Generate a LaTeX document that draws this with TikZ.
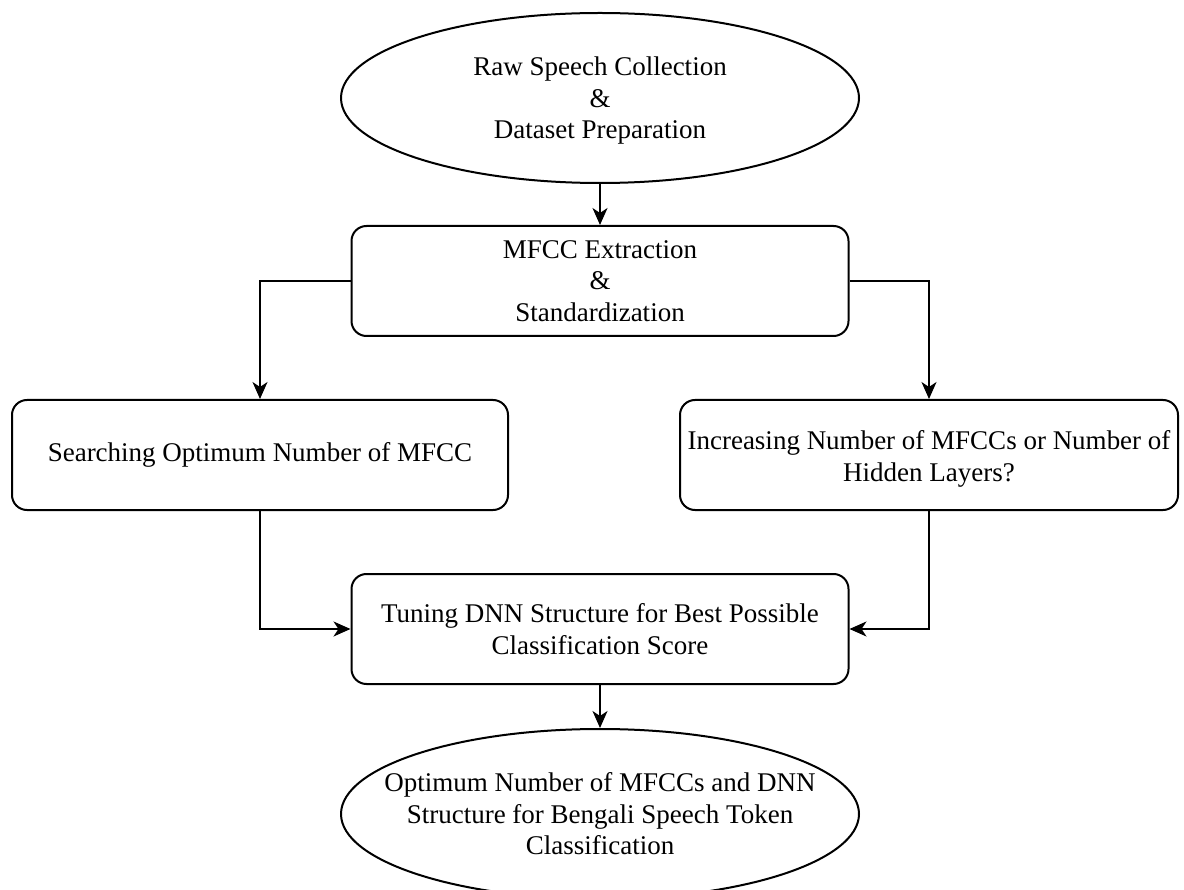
\documentclass[tikz,border=0pt]{standalone}
\usepackage{fontspec}
\setmainfont{Liberation Serif}
\usetikzlibrary{shapes.geometric,arrows.meta}
\begin{document}
\begin{tikzpicture}[x=1pt,y=-1pt,
  every node/.style={font=\fontsize{27}{31.5}\selectfont, align=center, inner sep=0pt},
  oval/.style={ellipse, draw, line width=2pt, minimum width=518pt, minimum height=170pt},
  box/.style={draw, rounded corners=15pt, line width=2pt, minimum width=497pt, minimum height=110pt},
  conn/.style={line width=2pt, -{Stealth[length=17pt,width=15pt,inset=5pt]}}]
\useasboundingbox (0,0) rectangle (1184,890);
\fill[white] (0,0) rectangle (1184,890);
\node[oval] (top) at (600,98) {};
\node[yshift=-3pt] (toptext) at (top.center) {Raw Speech Collection\\\&\\Dataset Preparation};
\node[box] (mfcc) at (600,281) {MFCC Extraction\\\&\\Standardization};
\node[box, minimum width=496pt] (left) at (260,455) {Searching Optimum Number of MFCC};
\node[box, minimum width=498pt] (right) at (929,455) {};
\node[yshift=-4pt] (righttext) at (right.center) {Increasing Number of MFCCs or Number of\\Hidden Layers?};
\node[box] (tune) at (600,629) {Tuning DNN Structure for Best Possible\\Classification Score};
\node[oval] (bot) at (600,814) {};
\node (bottext) at (bot.center) {Optimum Number of MFCCs and DNN\\Structure for Bengali Speech Token\\Classification};
\draw[conn] (top.south) -- (mfcc.north);
\draw[conn] (mfcc.west) -| (left.north);
\draw[conn] (mfcc.east) -| (right.north);
\draw[conn] (left.south) |- (tune.west);
\draw[conn] (right.south) |- (tune.east);
\draw[conn] (tune.south) -- (bot.north);
\end{tikzpicture}
\end{document}
